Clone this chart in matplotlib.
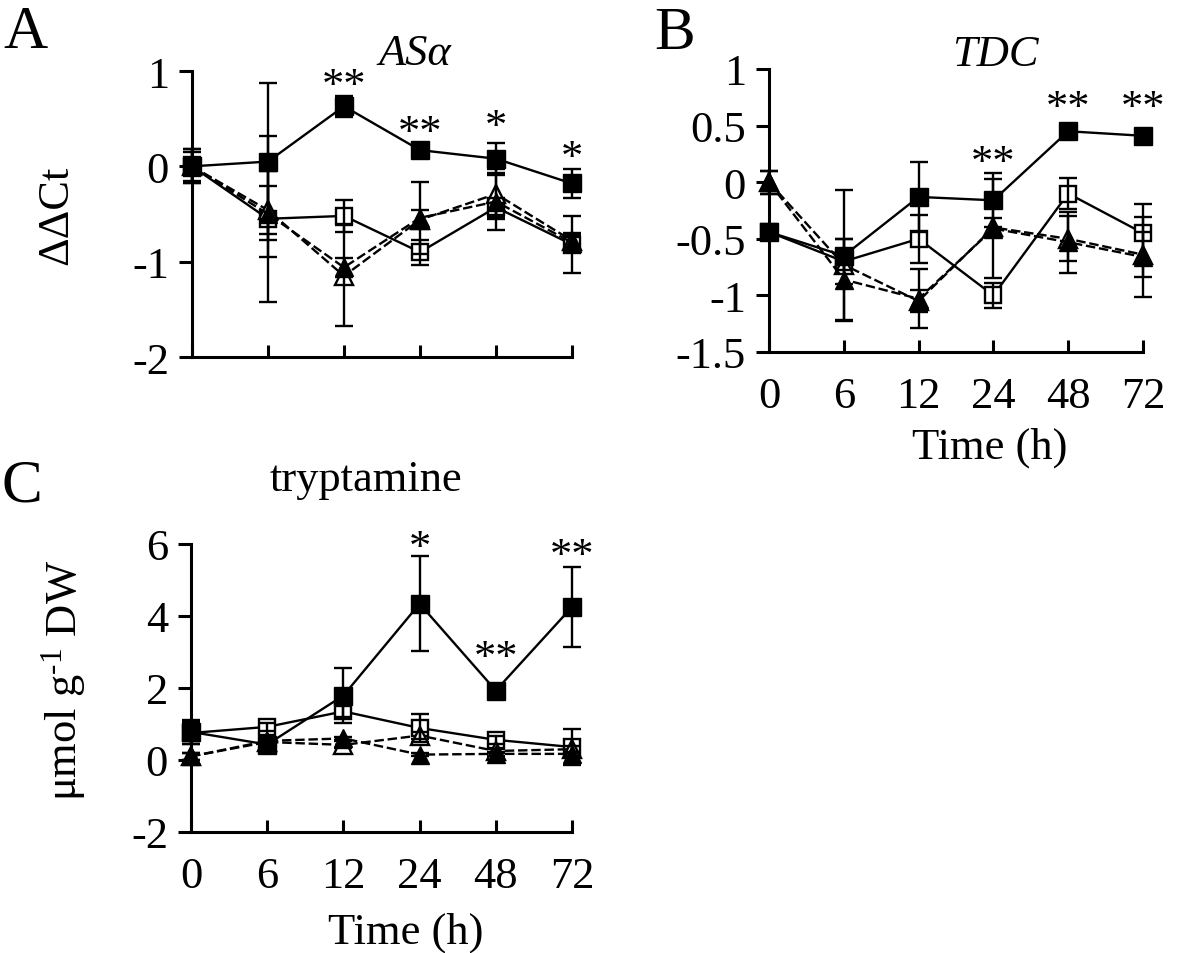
import matplotlib
matplotlib.use("Agg")
import matplotlib.pyplot as plt

plt.rcParams['font.family'] = ['Liberation Serif', 'DejaVu Serif']
plt.rcParams['mathtext.fontset'] = 'custom'
plt.rcParams['mathtext.rm'] = 'Liberation Serif'
plt.rcParams['mathtext.it'] = 'Liberation Serif:italic'

# ---------------- data ----------------
times = ['0', '6', '12', '24', '48', '72']

# Panel A: ASalpha (ddCt)
A_fsq = [0.00, 0.05, 0.63, 0.17, 0.08, -0.18]
A_fsq_err = [0.18, 0.82, 0.11, 0.03, 0.17, 0.15]
A_osq = [0.00, -0.55, -0.52, -0.90, -0.43, -0.82]
A_osq_err = [0.18, 0.87, 0.17, 0.13, 0.10, 0.30]
A_ftri = [0.00, -0.50, -1.06, -0.54, -0.37, -0.80]
A_ftri_err = [0.15, 0.45, 0.10, 0.38, 0.30, 0.08]
A_otri = [0.00, -0.46, -1.15, -0.56, -0.29, -0.78]
A_otri_err = [0.10, 0.25, 0.53, 0.10, 0.26, 0.08]
A_stars = ['', '', '**', '**', '*', '*']
A_star_y = [None, None, 0.93, 0.44, 0.50, 0.18]

# Panel B: TDC (ddCt)
B_fsq = [-0.44, -0.65, -0.13, -0.16, 0.45, 0.41]
B_fsq_err = [0.03, 0.58, 0.31, 0.24, 0.06, 0.03]
B_osq = [-0.44, -0.70, -0.50, -1.00, -0.10, -0.45]
B_osq_err = [0.03, 0.20, 0.21, 0.11, 0.14, 0.26]
B_ftri = [0.00, -0.86, -1.03, -0.41, -0.53, -0.66]
B_ftri_err = [0.10, 0.36, 0.26, 0.44, 0.27, 0.35]
B_otri = [0.00, -0.73, -1.05, -0.40, -0.50, -0.64]
B_otri_err = [0.10, 0.05, 0.10, 0.08, 0.20, 0.20]
B_stars = ['', '', '', '**', '**', '**']
B_star_y = [None, None, None, 0.24, 0.73, 0.73]

# Panel C: tryptamine (umol g-1 DW)
C_fsq = [0.78, 0.43, 1.79, 4.34, 1.93, 4.25]
C_fsq_err = [0.34, 0.10, 0.77, 1.32, 0.05, 1.12]
C_osq = [0.75, 0.92, 1.35, 0.89, 0.56, 0.36]
C_osq_err = [0.30, 0.12, 0.15, 0.40, 0.12, 0.50]
C_ftri = [0.10, 0.53, 0.60, 0.15, 0.17, 0.17]
C_ftri_err = [0.10, 0.05, 0.05, 0.05, 0.05, 0.05]
C_otri = [0.10, 0.50, 0.42, 0.68, 0.25, 0.30]
C_otri_err = [0.10, 0.05, 0.10, 0.10, 0.05, 0.10]
C_stars = ['', '', '', '*', '**', '**']
C_star_y = [None, None, None, 6.12, 3.06, 5.90]

# ---------------- figure ----------------
W, H = 1200, 954
fig = plt.figure(figsize=(W / 100, H / 100), dpi=100)

def px_axes(left, top, right, bottom):
    return fig.add_axes([left / W, 1 - bottom / H, (right - left) / W, (bottom - top) / H])

axA = px_axes(192, 72, 572, 358)
axB = px_axes(769, 70, 1143, 353)
axC = px_axes(191, 545, 572, 833)

FS = 32
LW = 1.7
x = list(range(len(times)))

def style(ax, ylim, yticks, yticklabels, show_x):
    ax.set_xlim(0, len(times) - 1)
    ax.set_ylim(*ylim)
    for s in ['top', 'right']:
        ax.spines[s].set_visible(False)
    for s in ['left', 'bottom']:
        ax.spines[s].set_linewidth(2.2)
    ax.set_yticks(yticks)
    ax.set_yticklabels(yticklabels, fontsize=FS)
    ax.set_xticks(x)
    if show_x:
        ax.set_xticklabels(times, fontsize=FS)
    else:
        ax.set_xticklabels([])
    ax.tick_params(axis='y', direction='out', length=9.5, width=2.2, pad=7)
    ax.tick_params(axis='x', direction='in', length=9, width=2.2, pad=17)
    ax.set_facecolor('none')

def draw(ax, fsq, fsq_e, osq, osq_e, ftri, ftri_e, otri, otri_e):
    dash = (0, (4, 1.6))
    ms = 13
    ax.plot(x, osq, '-', color='black', lw=LW, marker='s', ms=ms - 1, mfc='white',
            mec='black', mew=1.7, clip_on=False, zorder=3)
    ax.plot(x, otri, linestyle=dash, color='black', lw=LW, marker='^', ms=ms, mfc='white',
            mec='black', mew=1.7, clip_on=False, zorder=4)
    ax.plot(x, ftri, linestyle=dash, color='black', lw=LW, marker='^', ms=ms, mfc='black',
            mec='black', clip_on=False, zorder=5)
    ax.plot(x, fsq, '-', color='black', lw=LW, marker='s', ms=ms, mfc='black',
            mec='black', clip_on=False, zorder=6)
    for vals, errs in [(osq, osq_e), (otri, otri_e), (ftri, ftri_e), (fsq, fsq_e)]:
        eb = ax.errorbar(x, vals, yerr=errs, fmt='none', ecolor='black', elinewidth=LW,
                         capsize=6.5, capthick=LW, zorder=7)
        for art in list(eb.lines[1]) + list(eb.lines[2]):
            art.set_clip_on(False)

def stars(ax, labels, ys):
    for xi, lab, yv in zip(x, labels, ys):
        if lab and yv is not None:
            ax.annotate(lab, xy=(xi, yv), xytext=(0, -14), textcoords='offset points',
                        ha='center', va='baseline', fontsize=FS, annotation_clip=False)

style(axA, (-2, 1), [-2, -1, 0, 1], ['-2', '-1', '0', '1'], False)
draw(axA, A_fsq, A_fsq_err, A_osq, A_osq_err, A_ftri, A_ftri_err, A_otri, A_otri_err)
stars(axA, A_stars, A_star_y)

style(axB, (-1.5, 1), [-1.5, -1, -0.5, 0, 0.5, 1], ['-1.5', '-1', '-0.5', '0', '0.5', '1'], True)
draw(axB, B_fsq, B_fsq_err, B_osq, B_osq_err, B_ftri, B_ftri_err, B_otri, B_otri_err)
stars(axB, B_stars, B_star_y)

style(axC, (-2, 6), [-2, 0, 2, 4, 6], ['-2', '0', '2', '4', '6'], True)
draw(axC, C_fsq, C_fsq_err, C_osq, C_osq_err, C_ftri, C_ftri_err, C_otri, C_otri_err)
stars(axC, C_stars, C_star_y)

# axis labels
axA.set_ylabel('ΔΔCt', fontsize=FS)
axA.yaxis.set_label_coords(76 / W, 1 - 215 / H, transform=fig.transFigure)
axC.set_ylabel('μmol g$^{\\text{-1}}$ DW', fontsize=FS)
axC.yaxis.set_label_coords(88 / W, 1 - 680 / H, transform=fig.transFigure)

for ax, cx, cy in [(axB, 990, 448), (axC, 406, 933)]:
    ax.set_xlabel('Time (h)', fontsize=FS)
    ax.xaxis.label.set_va('center')
    ax.xaxis.set_label_coords(cx / W, 1 - cy / H, transform=fig.transFigure)

# titles
fig.text(415 / W, 1 - 54 / H, 'ASα', fontsize=FS, style='italic', ha='center', va='center')
fig.text(995 / W, 1 - 55 / H, 'TDC', fontsize=FS, style='italic', ha='center', va='center')
fig.text(366 / W, 1 - 480 / H, 'tryptamine', fontsize=FS, ha='center', va='center')

# panel letters
for lab, cx, cy in [('A', 25, 33), ('B', 675, 34), ('C', 22, 487)]:
    fig.text(cx / W, 1 - cy / H, lab, fontsize=44, ha='center', va='center')

fig.savefig('out.png', dpi=100, facecolor='white')
